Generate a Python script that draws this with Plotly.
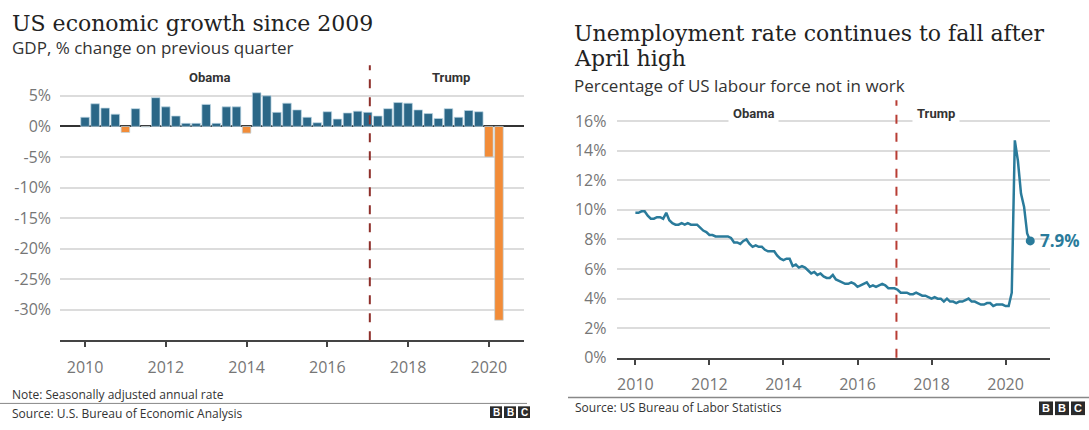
import pandas as pd
import plotly.graph_objects as go

# ---- GDP growth, % change on previous quarter (annualised) ----
gdp_quarters = [str(p) for p in pd.period_range("2010Q1", "2020Q2", freq="Q")]
gdp_growth = [
    1.5, 3.7, 3.0, 2.0,      # 2010
    -1.0, 2.9, -0.1, 4.7,    # 2011
    3.2, 1.7, 0.5, 0.5,      # 2012
    3.6, 0.5, 3.2, 3.2,      # 2013
    -1.1, 5.5, 5.0, 2.3,     # 2014
    3.8, 2.7, 1.5, 0.6,      # 2015
    2.4, 1.2, 2.2, 2.5,      # 2016
    2.3, 1.7, 2.9, 3.9,      # 2017
    3.8, 2.7, 2.1, 1.3,      # 2018
    2.9, 1.5, 2.6, 2.4,      # 2019
    -5.0, -31.7,             # 2020
]

# ---- Unemployment rate, % of labour force, monthly ----
unemp_months = [str(p) for p in pd.period_range("2010-01", "2020-09", freq="M")]
unemp_rate = [
    9.8, 9.8, 9.9, 9.9, 9.6, 9.4, 9.4, 9.5, 9.5, 9.4, 9.8, 9.3,   # 2010
    9.1, 9.0, 9.0, 9.1, 9.0, 9.1, 9.0, 9.0, 9.0, 8.8, 8.6, 8.5,   # 2011
    8.3, 8.3, 8.2, 8.2, 8.2, 8.2, 8.2, 8.1, 7.8, 7.8, 7.7, 7.9,   # 2012
    8.0, 7.7, 7.5, 7.6, 7.5, 7.5, 7.3, 7.2, 7.2, 7.2, 6.9, 6.7,   # 2013
    6.6, 6.7, 6.7, 6.2, 6.3, 6.1, 6.2, 6.1, 5.9, 5.7, 5.8, 5.6,   # 2014
    5.7, 5.5, 5.4, 5.4, 5.6, 5.3, 5.2, 5.1, 5.0, 5.0, 5.1, 5.0,   # 2015
    4.8, 4.9, 5.0, 5.1, 4.8, 4.9, 4.8, 4.9, 5.0, 4.9, 4.7, 4.7,   # 2016
    4.7, 4.6, 4.4, 4.4, 4.4, 4.3, 4.3, 4.4, 4.3, 4.2, 4.2, 4.1,   # 2017
    4.0, 4.1, 4.0, 4.0, 3.8, 4.0, 3.8, 3.8, 3.7, 3.8, 3.8, 3.9,   # 2018
    4.0, 3.8, 3.8, 3.7, 3.6, 3.6, 3.7, 3.7, 3.5, 3.6, 3.6, 3.6,   # 2019
    3.5, 3.5, 4.4, 14.7, 13.3, 11.1, 10.2, 8.4, 7.9,             # 2020
]

year_ticks = [2010, 2012, 2014, 2016, 2018, 2020]
gdp_tick_vals = [5, 0, -5, -10, -15, -20, -25, -30]
gdp_tick_text = ["5%", "0%", "-5%", "-10%", "-15%", "-20%", "-25%", "-30%"]
unemp_tick_vals = [0, 2, 4, 6, 8, 10, 12, 14, 16]
unemp_tick_text = [f"{v}%" for v in unemp_tick_vals]

inauguration = 2017 + 19 / 365  # 20 January 2017


def quarter_to_year(q):
    p = pd.Period(q, freq="Q")
    return p.year + (p.quarter - 1) / 4


def month_to_year(m):
    p = pd.Period(m, freq="M")
    return p.year + (p.month - 1) / 12


gdp_x = [quarter_to_year(q) for q in gdp_quarters]
unemp_x = [month_to_year(m) for m in unemp_months]

BLUE = "#2b6787"
ORANGE = "#f28c38"
LINE = "#2a7b9b"
GRID = "#dcdcdc"
AXIS = "#444444"
TICKFONT = dict(family="Open Sans", size=16, color="#767676")
SERIF = "DejaVu Serif"
SANS = "Open Sans"

W, H = 1089, 430


def px(x):
    return x / W


def py(y):
    return 1 - y / H


fig = go.Figure()

fig.add_trace(go.Bar(
    x=gdp_x, y=gdp_growth,
    marker=dict(color=[BLUE if v >= 0 else ORANGE for v in gdp_growth],
                line=dict(color="rgba(190,215,228,0.9)", width=0.8)),
    xaxis="x", yaxis="y", showlegend=False,
))

fig.add_trace(go.Scatter(
    x=unemp_x, y=unemp_rate, mode="lines",
    line=dict(color=LINE, width=2.5),
    xaxis="x2", yaxis="y2", showlegend=False,
))
fig.add_trace(go.Scatter(
    x=[unemp_x[-1]], y=[unemp_rate[-1]], mode="markers",
    marker=dict(color=LINE, size=9),
    xaxis="x2", yaxis="y2", showlegend=False,
))

axis_common = dict(
    showgrid=False, zeroline=False, showline=True, linecolor=AXIS, linewidth=2,
    ticks="outside", ticklen=5, tickwidth=1.5, tickcolor=AXIS,
    tickvals=year_ticks, ticktext=[str(y) for y in year_ticks],
    tickfont=TICKFONT, ticklabelstandoff=6, fixedrange=True,
)

fig.update_layout(
    width=W, height=H,
    margin=dict(l=0, r=0, t=0, b=0),
    paper_bgcolor="white", plot_bgcolor="white",
    bargap=0.15,
    xaxis=dict(domain=[px(60), px(524)], range=[2009.38, 2020.87], anchor="y", **axis_common),
    yaxis=dict(domain=[py(349.3), py(67)], range=[-35, 10], anchor="x",
               tickvals=gdp_tick_vals, ticktext=gdp_tick_text, tickfont=TICKFONT,
               showgrid=True, gridcolor=GRID, gridwidth=1.5,
               zeroline=True, zerolinecolor="#333333", zerolinewidth=2,
               showline=False, ticks="", ticklabelstandoff=8, fixedrange=True),
    xaxis2=dict(domain=[px(616.5), px(1050)], range=[2009.49, 2021.2], anchor="y2", **axis_common),
    yaxis2=dict(domain=[py(367.2), py(103)], range=[0, 17.4], anchor="x2",
                tickvals=unemp_tick_vals, ticktext=unemp_tick_text, tickfont=TICKFONT,
                showgrid=True, gridcolor=GRID, gridwidth=1.5,
                zeroline=False, showline=False, ticks="", ticklabelstandoff=9,
                fixedrange=True),
)

# Presidential terms: dashed divider at the inauguration
fig.add_shape(type="line", xref="x", yref="y domain", x0=inauguration, x1=inauguration,
              y0=0, y1=1, line=dict(color="#8e2f2a", width=2, dash="dash"))
fig.add_shape(type="line", xref="x2", yref="y2 domain", x0=inauguration, x1=inauguration,
              y0=0, y1=1, line=dict(color="#b83d34", width=2, dash="dash"))

label_font = dict(family="Roboto", size=13, color="#333333")
for xr, yv, text, xv in [("x", py(80), "<b>Obama</b>", 2013.09),
                         ("x", py(80), "<b>Trump</b>", 2019.06),
                         ("x2", py(116), "<b>Obama</b>", 2013.18),
                         ("x2", py(116), "<b>Trump</b>", 2018.12)]:
    fig.add_annotation(x=xv, xref=xr, y=yv, yref="paper", text=text, showarrow=False,
                       font=label_font, bgcolor="white", borderpad=4,
                       xanchor="center", yanchor="middle")

# End-of-line value label
fig.add_annotation(x=unemp_x[-1], y=unemp_rate[-1], xref="x2", yref="y2",
                   text=f"<b>{unemp_rate[-1]}%</b>", showarrow=False, xanchor="left",
                   yanchor="middle", xshift=8, font=dict(family=SANS, size=17, color=LINE))

# Titles and subtitles
TITLE = dict(family=SERIF, size=22, color="#222222")
SUB = dict(family=SANS, size=17, color="#333333")
FOOT = dict(family=SANS, size=12, color="#333333")
texts = [
    (10, 24, "US economic growth since 2009", TITLE),
    (10, 49, "GDP, % change on previous quarter", SUB),
    (572, 34, "Unemployment rate continues to fall after", TITLE),
    (572, 60, "April high", TITLE),
    (572, 88, "Percentage of US labour force not in work", SUB),
    (10, 405, "Note: Seasonally adjusted annual rate", FOOT),
    (10, 424, "Source: U.S. Bureau of Economic Analysis", FOOT),
    (573, 418, "Source: US Bureau of Labor Statistics", FOOT),
]
for x, y, t, f in texts:
    fig.add_annotation(x=px(x), y=py(y), xref="paper", yref="paper", text=t,
                       showarrow=False, xanchor="left", yanchor="middle", font=f)

# Footer rules
fig.add_shape(type="line", xref="paper", yref="paper", x0=0, x1=px(527), y0=py(414), y1=py(414),
              line=dict(color="#888888", width=1))
fig.add_shape(type="line", xref="paper", yref="paper", x0=px(568), x1=1, y0=py(408), y1=py(408),
              line=dict(color="#888888", width=1.5))


# BBC blocks
def bbc_logo(x_right, y_top, box, gap, size):
    for i, ch in enumerate("BBC"):
        x0 = x_right - (3 - i) * box - (2 - i) * gap
        fig.add_shape(type="rect", xref="paper", yref="paper",
                      x0=px(x0), x1=px(x0 + box), y0=py(y_top + box), y1=py(y_top),
                      fillcolor="#2b2b2b", line=dict(width=0))
        fig.add_annotation(x=px(x0 + box / 2), y=py(y_top + box / 2), xref="paper", yref="paper",
                           text=f"<b>{ch}</b>", showarrow=False, borderpad=0,
                           xanchor="center", yanchor="middle",
                           font=dict(family="Liberation Sans", size=size, color="white"))


bbc_logo(530, 417, 12, 2, 10)
bbc_logo(1085, 412, 14, 2, 11)

fig.write_html("out.html")
